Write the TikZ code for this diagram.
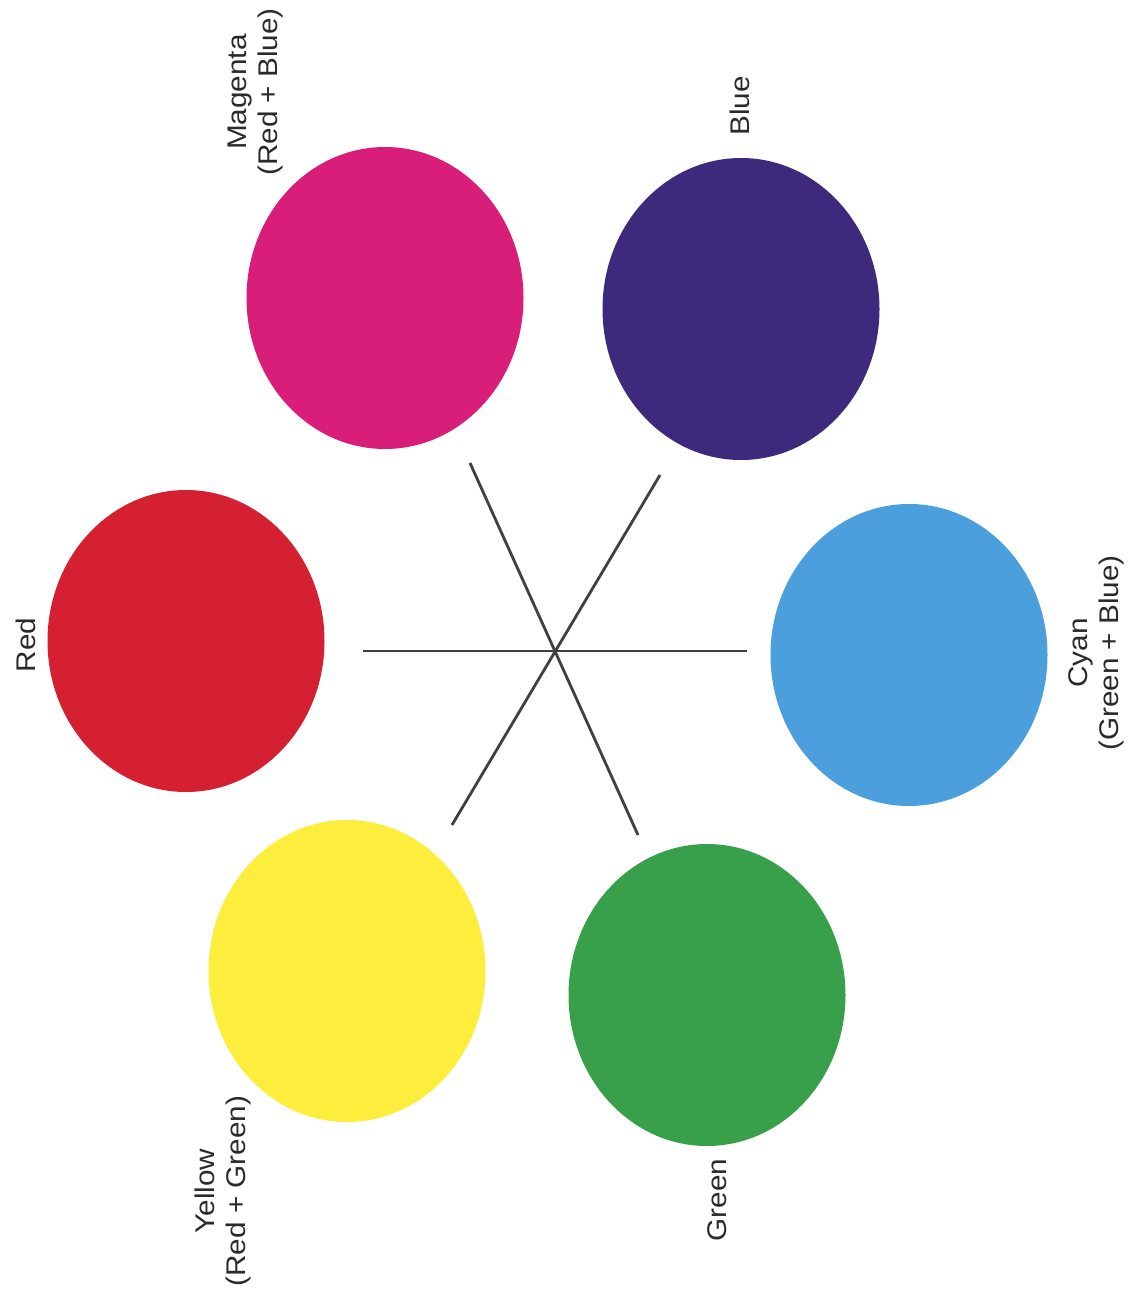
\documentclass[tikz,border=0pt]{standalone}
\usepackage{fontspec}
\setmainfont{Liberation Sans}
\usetikzlibrary{shapes.geometric}
\definecolor{cmag}{HTML}{D81E79}
\definecolor{cblue}{HTML}{3D2A7D}
\definecolor{cred}{HTML}{D42030}
\definecolor{ccyan}{HTML}{4B9FDC}
\definecolor{cyel}{HTML}{FDEE3D}
\definecolor{cgreen}{HTML}{38A04B}
\definecolor{cline}{HTML}{404040}
\definecolor{ctext}{HTML}{2A2A2A}
\tikzset{
  dot/.style={ellipse, minimum width=277pt, minimum height=302pt, inner sep=0pt, draw=none},
  lbl/.style={rotate=90, font=\fontsize{27}{31}\selectfont, text=ctext, align=center, inner sep=0pt, xscale=1.1},
  spoke/.style={draw=cline, line width=2.8pt}
}
\begin{document}
\begin{tikzpicture}[x=1pt,y=-1pt]
\useasboundingbox (0,0) rectangle (1131,1293);
\fill[white] (0,0) rectangle (1131,1293);
% colour discs
\node[dot, fill=cmag]   (magenta) at (385,298) {};
\node[dot, fill=cblue]  (blue)    at (741,309) {};
\node[dot, fill=cred]   (red)     at (186,641) {};
\node[dot, fill=ccyan]  (cyan)    at (909,655) {};
\node[dot, fill=cyel]   (yellow)  at (347,971) {};
\node[dot, fill=cgreen] (green)   at (707,995) {};
% labels
\node[lbl] (lmag) at (256,92) {Magenta\\(Red + Blue)};
\node[lbl] (lblue) at (740,106) {Blue};
\node[lbl] (lred) at (26,645) {Red};
\node[lbl] (lcyan) at (1096,653) {Cyan\\(Green + Blue)};
\node[lbl] (lyel) at (223,1191) {Yellow\\(Red + Green)};
\node[lbl] (lgreen) at (717,1200) {Green};
% spokes
\coordinate (hA) at (363,651);
\coordinate (hB) at (747,651);
\coordinate (dA) at (470,463);
\coordinate (dB) at (638,835);
\coordinate (eA) at (660,475);
\coordinate (eB) at (452,825);
\draw[spoke] (hA) -- (hB);
\draw[spoke] (dA) -- (dB);
\draw[spoke] (eA) -- (eB);
\end{tikzpicture}
\end{document}
